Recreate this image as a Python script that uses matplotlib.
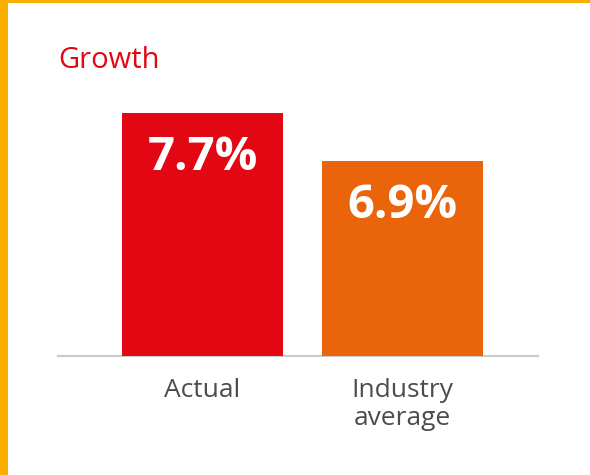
import matplotlib
matplotlib.use("Agg")
import matplotlib.pyplot as plt
from matplotlib.patches import Rectangle

categories = ["Actual", "Industry\naverage"]
values = [7.7, 6.9]
value_labels = ["7.7%", "6.9%"]
bar_colors = ["#E30613", "#EA640C"]
title = "Growth"

W, H = 590, 475
fig = plt.figure(figsize=(W / 100, H / 100), dpi=100)
fig.patch.set_facecolor("white")

# frame strips (left and top)
fig.patches.append(Rectangle((0, 0), 8 / W, 1, transform=fig.transFigure,
                             facecolor="#F9AE00", edgecolor="none", zorder=0))
fig.patches.append(Rectangle((0, 1 - 3 / H), 1, 3 / H, transform=fig.transFigure,
                             facecolor="#F9AE00", edgecolor="none", zorder=0))

left, right = 58, 538
bottom_px, top_px = 356, 113
ax = fig.add_axes([left / W, 1 - bottom_px / H, (right - left) / W, (bottom_px - top_px) / H])
ax.set_facecolor("none")

x = list(range(len(categories)))
bars = ax.bar(x, values, width=0.805, color=bar_colors, zorder=3)
ax.set_xlim(-0.7225, 1.6775)
ax.set_ylim(3.67, 7.7)

for b, lab in zip(bars, value_labels):
    ax.annotate(lab, (b.get_x() + b.get_width() / 2, b.get_height()),
                xytext=(0, -44 * 0.72), textcoords="offset points",
                ha="center", va="center", color="white", fontsize=34,
                fontweight="bold", family="Open Sans", zorder=4)

for s in ["top", "right", "left"]:
    ax.spines[s].set_visible(False)
ax.spines["bottom"].set_color("#CCCCCC")
ax.spines["bottom"].set_linewidth(1.6)
ax.spines["bottom"].set_zorder(2)
ax.set_yticks([])
ax.set_xticks(x)
ax.set_xticklabels(categories, fontsize=19, color="#4F4B4B", family="Open Sans",
                   linespacing=1.12)
ax.tick_params(axis="x", length=0, pad=16)

fig.text(58 / W, 1 - 61 / H, title, color="#E30613", fontsize=21,
         family="Open Sans", ha="left", va="center")

fig.savefig("out.png", dpi=100)
